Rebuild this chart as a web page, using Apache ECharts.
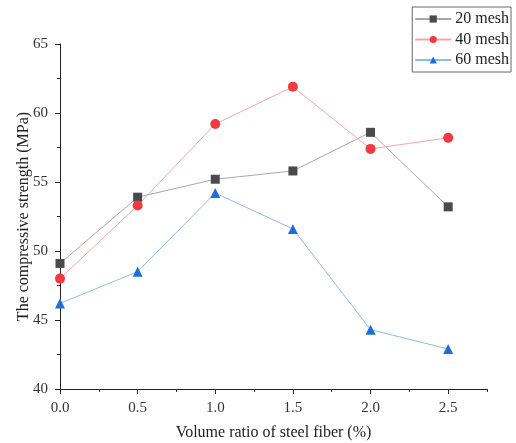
<!DOCTYPE html>
<html>
<head>
<meta charset="utf-8">
<script src="https://cdn.jsdelivr.net/npm/echarts@6/dist/echarts.min.js"></script>
<style>
    html, body { margin: 0; padding: 0; background: #fff; }
    #chart { width: 516px; height: 443px; }
</style>
</head>
<body>
<div id="chart"></div>
<script>
    // fiber volume ratio (%)
    var ratios = [0, 0.5, 1.0, 1.5, 2.0, 2.5];
    var xMajor = [0, 0.5, 1.0, 1.5, 2.0, 2.5];
    var yTicks = [40, 45, 50, 55, 60, 65];

    // compressive strength (MPa)
    var mesh20 = [49.1, 53.9, 55.2, 55.8, 58.6, 53.2];
    var mesh40 = [48.0, 53.3, 59.2, 61.9, 57.4, 58.2];
    var mesh60 = [46.2, 48.5, 54.2, 51.6, 44.3, 42.9];

    var seriesNames = ['20 mesh', '40 mesh', '60 mesh'];

    var serif = 'Liberation Serif, Times New Roman, serif';

    function pairs(vals) {
        return ratios.map(function (x, i) { return [x, vals[i]]; });
    }

    var chart = echarts.init(document.getElementById('chart'));

    var option = {
        backgroundColor: '#fff',
        animation: false,
        grid: { left: 60, right: 29, top: 44, bottom: 54, outerBoundsMode: 'none' },
        legend: {
            orient: 'vertical',
            right: 5,
            top: 7,
            itemWidth: 36,
            itemHeight: 9,
            itemGap: 4.5,
            padding: [4, 2, 4, 2],
            borderColor: '#666',
            borderWidth: 1,
            textStyle: { fontFamily: serif, fontSize: 16, color: '#222', padding: [0, 0, 0, -1] },
            data: seriesNames
        },
        xAxis: [
            {
                type: 'value',
                min: 0,
                max: 2.75,
                interval: 0.25,
                name: 'Volume ratio of steel fiber (%)',
                nameLocation: 'middle',
                nameGap: 36,
                nameTextStyle: { fontFamily: serif, fontSize: 16, color: '#222' },
                axisLine: { lineStyle: { color: '#222', width: 1 } },
                axisTick: { show: true, customValues: xMajor, length: 5, inside: false, lineStyle: { color: '#222' } },
                axisLabel: {
                    customValues: xMajor,
                    fontFamily: serif, fontSize: 15, color: '#333', margin: 12,
                    formatter: function (v) { return v.toFixed(1); }
                },
                splitLine: { show: false }
            },
            {
                // minor ticks only
                type: 'value',
                position: 'bottom',
                min: 0,
                max: 2.75,
                interval: 0.25,
                axisLine: { show: false },
                axisTick: { show: true, length: 3, lineStyle: { color: '#222' } },
                axisLabel: { show: false },
                splitLine: { show: false }
            }
        ],
        yAxis: {
            type: 'value',
            min: 40,
            max: 65,
            interval: 5,
            name: 'The compressive strength (MPa)',
            nameLocation: 'middle',
            nameGap: 28,
            nameMoveOverlap: false,
            nameTextStyle: { fontFamily: serif, fontSize: 16, color: '#222' },
            axisLine: { show: true, lineStyle: { color: '#222', width: 1 } },
            axisTick: { show: true, length: 5, lineStyle: { color: '#222' } },
            minorTick: { show: true, splitNumber: 2, length: 3, lineStyle: { color: '#222' } },
            axisLabel: {
                customValues: yTicks,
                fontFamily: serif, fontSize: 15, color: '#333', margin: 12
            },
            splitLine: { show: false }
        },
        series: [
            {
                name: seriesNames[0],
                type: 'line',
                data: pairs(mesh20),
                symbol: 'rect',
                symbolSize: 9,
                itemStyle: { color: '#4a4a4a' },
                lineStyle: { color: '#a8a8a8', width: 1 }
            },
            {
                name: seriesNames[1],
                type: 'line',
                data: pairs(mesh40),
                symbol: 'circle',
                symbolSize: 10,
                itemStyle: { color: '#f03a3f' },
                lineStyle: { color: '#f7a6a6', width: 1 }
            },
            {
                name: seriesNames[2],
                type: 'line',
                data: pairs(mesh60),
                symbol: 'triangle',
                symbolSize: 10,
                itemStyle: { color: '#1d6ed8' },
                lineStyle: { color: '#8bbcf2', width: 1 }
            }
        ]
    };

    chart.setOption(option);
</script>
</body>
</html>
